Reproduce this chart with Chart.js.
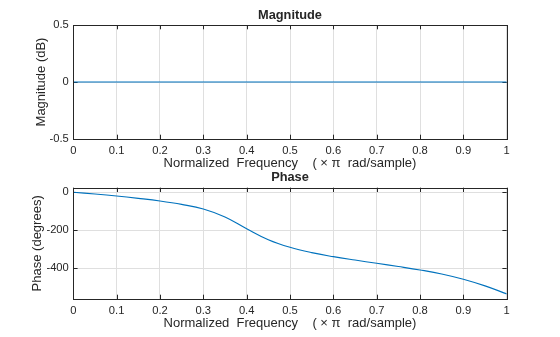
<!DOCTYPE html>
<html>
<head>
<meta charset="utf-8">
<script src="https://cdn.jsdelivr.net/npm/chart.js@4"></script>
<style>
  html, body { margin: 0; padding: 0; background: #ffffff; }
  #wrap { position: relative; width: 560px; height: 337px; overflow: hidden; background: #ffffff; }
  #wrap canvas { position: absolute; left: 0; top: 0; }
</style>
</head>
<body>
<div id="wrap">
  <canvas id="mag" width="560" height="337"></canvas>
  <canvas id="pha" width="560" height="337"></canvas>
</div>
<script>
// ---- data ----
const freq      = [0, 0.05, 0.1, 0.15, 0.2, 0.25, 0.3, 0.35, 0.4, 0.45, 0.5, 0.55, 0.6, 0.65, 0.7, 0.75, 0.8, 0.85, 0.9, 0.95, 1.0];
const magnitude = [0, 0, 0, 0, 0, 0, 0, 0, 0, 0, 0, 0, 0, 0, 0, 0, 0, 0, 0, 0, 0];
const phase     = [0, -9, -19.5, -32, -46, -64, -88, -130, -192, -250, -290, -318, -339, -357, -374, -391, -409, -430, -458, -493, -535];
const magTicks  = [-0.5, 0, 0.5];
const phaseTicks = [-400, -200, 0];
const freqTickStep = 0.1;
const xLabel = 'Normalized  Frequency    ( \u00D7 \u03C0  rad/sample)';

const TEXT = '#262626';
const GRID = '#dfdfdf';
const LINE = '#0072BD';
const FAMILY = '"Liberation Sans", Arial, Helvetica, sans-serif';
Chart.defaults.font.family = FAMILY;
Chart.defaults.color = TEXT;

// MATLAB style inward ticks (under the data) and box (on top)
const boxPlugin = {
  id: 'boxPlugin',
  beforeDatasetsDraw(chart) {
    const {ctx, chartArea: a, scales} = chart;
    const L = 4.3;
    ctx.save();
    ctx.strokeStyle = TEXT;
    ctx.lineWidth = 1;
    ctx.beginPath();
    scales.x.ticks.forEach(t => {
      const px = Math.round(scales.x.getPixelForValue(t.value)) + 0.5;
      ctx.moveTo(px, a.bottom); ctx.lineTo(px, a.bottom - L);
      ctx.moveTo(px, a.top); ctx.lineTo(px, a.top + L);
    });
    scales.y.ticks.forEach(t => {
      const py = Math.round(scales.y.getPixelForValue(t.value)) + 0.5;
      ctx.moveTo(a.left, py); ctx.lineTo(a.left + L, py);
      ctx.moveTo(a.right, py); ctx.lineTo(a.right - L, py);
    });
    ctx.stroke();
    ctx.restore();
  },
  afterDraw(chart) {
    const {ctx, chartArea: a} = chart;
    ctx.save();
    ctx.strokeStyle = TEXT;
    ctx.lineWidth = 1;
    ctx.strokeRect(Math.round(a.left) + 0.5, Math.round(a.top) + 0.5,
                   Math.round(a.right) - Math.round(a.left), Math.round(a.bottom) - Math.round(a.top));
    ctx.restore();
  }
};

function makeChart(id, title, ydata, yTicks, yMin, yMax, yLabel, padTop, padBottom, yTitlePad) {
  return new Chart(document.getElementById(id), {
    type: 'line',
    data: {
      datasets: [{
        data: freq.map((f, i) => ({x: f, y: ydata[i]})),
        borderColor: LINE,
        borderWidth: 1.1,
        pointRadius: 0,
        fill: false,
        tension: 0.4
      }]
    },
    options: {
      responsive: false,
      animation: false,
      devicePixelRatio: 1,
      layout: { padding: { left: 0, right: 53.3, top: padTop, bottom: padBottom } },
      plugins: {
        legend: { display: false },
        tooltip: { enabled: false },
        title: {
          display: true, text: title, fullSize: false, color: TEXT,
          font: { size: 12.8, weight: 'bold', family: FAMILY, lineHeight: 1.2 },
          padding: { top: 7.3, bottom: 2.34 }
        }
      },
      scales: {
        x: {
          type: 'linear', min: 0, max: 1,
          afterFit: s => { s.height = 35; },
          grid: { color: GRID, lineWidth: 1, drawTicks: false },
          border: { display: false },
          ticks: { stepSize: freqTickStep, padding: 5, color: TEXT, maxRotation: 0,
                   font: { size: 11.2, family: FAMILY }, includeBounds: false,
                   callback: v => String(Math.round(v * 10) / 10) },
          title: { display: true, text: xLabel, color: TEXT,
                   font: { size: 13, family: FAMILY, lineHeight: 1.2 },
                   padding: { top: 0, bottom: 2.3 } }
        },
        y: {
          type: 'linear', min: yMin, max: yMax,
          afterFit: s => { s.width = 73.3; },
          afterBuildTicks: s => { s.ticks = yTicks.map(v => ({value: v})); },
          grid: { color: GRID, lineWidth: 1, drawTicks: false },
          border: { display: false },
          ticks: { padding: 4.5, color: TEXT, font: { size: 11.2, family: FAMILY },
                   callback: v => String(v) },
          title: { display: true, text: yLabel, color: TEXT,
                   font: { size: 13, family: FAMILY, lineHeight: 1.2 },
                   padding: { top: yTitlePad, bottom: 0 } }
        }
      }
    },
    plugins: [boxPlugin]
  });
}

makeChart('mag', 'Magnitude', magnitude, magTicks, -0.5, 0.5, 'Magnitude (dB)', 0, 163, 34);
makeChart('pha', 'Phase', phase, phaseTicks, -562, 24, 'Phase (degrees)', 162.7, 3, 30);
</script>
</body>
</html>
